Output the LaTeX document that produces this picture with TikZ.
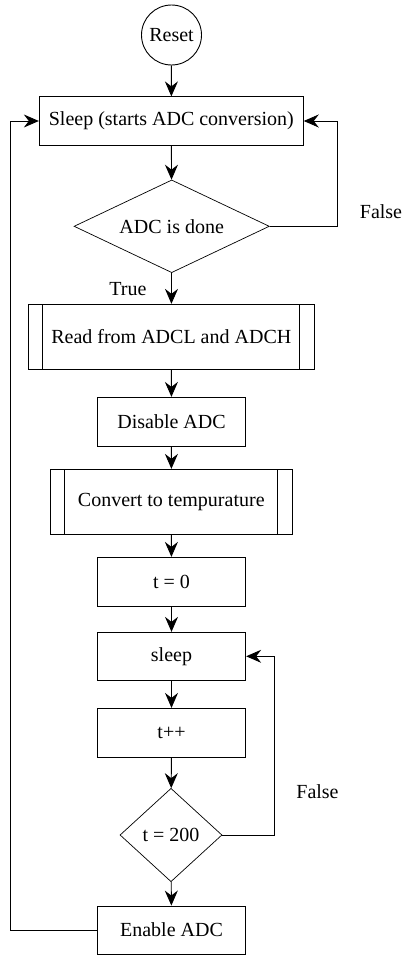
\documentclass[tikz,border=0pt]{standalone}
\usepackage{fontspec}
\setmainfont{Liberation Serif}
\usetikzlibrary{arrows.meta,shapes.geometric}

\tikzset{
  every node/.style={font=\fontsize{20}{24}\selectfont},
  box/.style={draw, rectangle, minimum width=148.4pt, minimum height=48.7pt, inner sep=0pt},
  subproc/.style={draw, rectangle, inner sep=0pt,
    path picture={
      \draw ([xshift=14.5pt]path picture bounding box.north west) -- ([xshift=14.5pt]path picture bounding box.south west);
      \draw ([xshift=-14.5pt]path picture bounding box.north east) -- ([xshift=-14.5pt]path picture bounding box.south east);
    }},
  decide/.style={draw, diamond, inner sep=0pt, line width=0.7pt},
  label/.style={inner sep=0pt},
  >={Stealth[length=15pt,width=13pt,inset=5pt]}
}

\begin{document}
\begin{tikzpicture}[x=1pt,y=-1pt,line width=0.9pt]
\useasboundingbox (0,0) rectangle (406,966);

\node[draw,circle,minimum size=60pt,inner sep=0pt] (reset) at (171.5,35) {Reset};
\node[box,minimum width=264pt,minimum height=48.3pt] (sleepA) at (171.3,121) {Sleep (starts ADC conversion)};
\node[decide,aspect=2.1,minimum width=195.3pt,minimum height=92.7pt] (done) at (171.7,226.3) {ADC is done};
\node[subproc,minimum width=286pt,minimum height=65pt] (read) at (171.3,336.8) {Read from ADCL and ADCH};
\node[box] (disable) at (171.5,421.7) {Disable ADC};
\node[subproc,minimum width=242pt,minimum height=65pt] (convert) at (171.3,501.8) {Convert to tempurature};
\node[box] (tzero) at (171.5,581.7) {t = 0};
\node[box,minimum height=48pt] (sleepB) at (171.5,656.3) {sleep};
\node[box] (tinc) at (171.5,732.7) {t++};
\node[decide,aspect=1.1,minimum width=102pt,minimum height=93.4pt] (check) at (171,835) {t = 200};
\node[box,minimum height=48pt] (enable) at (171.5,930) {Enable ADC};

\node[label] (falseA) at (381,212) {False};
\node[label] (trueA) at (128,289) {True};
\node[label] (falseB) at (317.5,792) {False};

\draw[->] (reset) -- (sleepA);
\draw[->] (sleepA) -- (done);
\draw[->] (done) -- (read);
\draw[->] (read) -- (disable);
\draw[->] (disable) -- (convert);
\draw[->] (convert) -- (tzero);
\draw[->] (tzero) -- (sleepB);
\draw[->] (sleepB) -- (tinc);
\draw[->] (tinc) -- (check);
\draw[->] (check) -- (enable);

\draw[->] (done.east) -| ([xshift=34pt]sleepA.east) -- (sleepA.east);
\draw[->] (check.east) -| ([xshift=28.6pt]sleepB.east) -- (sleepB.east);
\draw[->] (enable.west) -| ([xshift=-28.3pt]sleepA.west) -- (sleepA.west);
\end{tikzpicture}
\end{document}
